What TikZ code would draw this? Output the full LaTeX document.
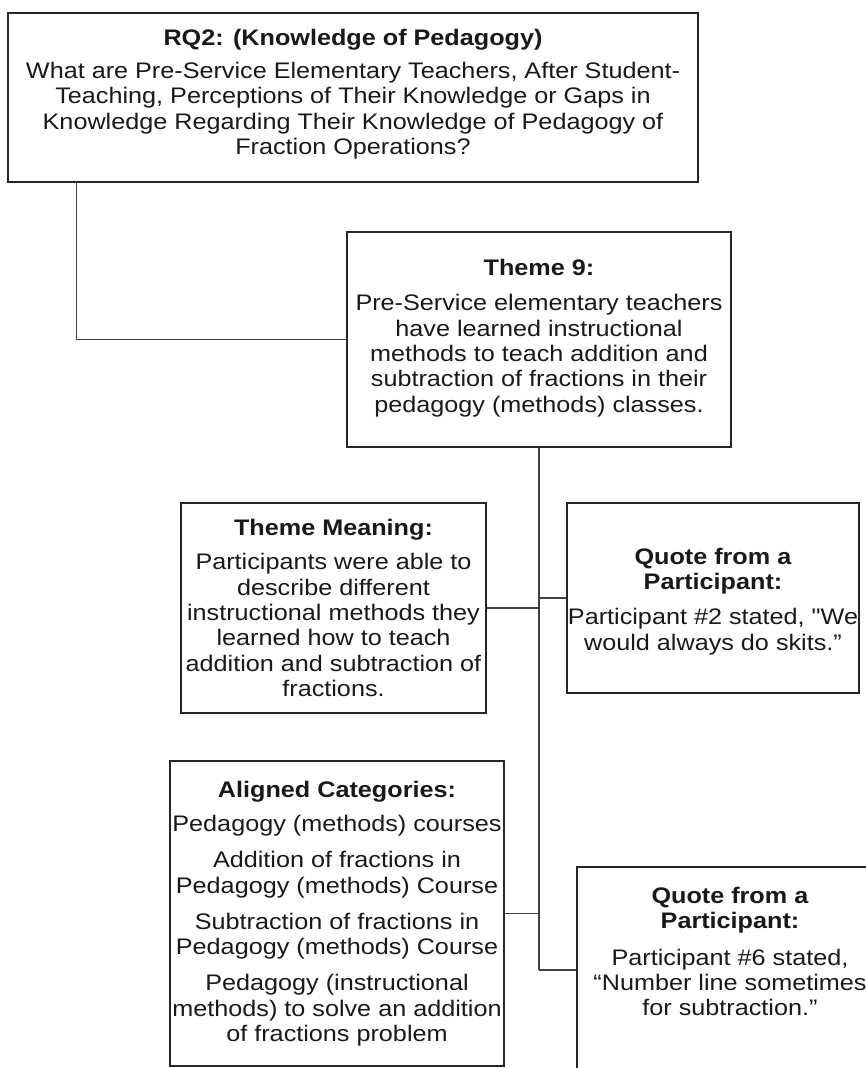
\documentclass[tikz,border=0pt]{standalone}
\usepackage{fontspec}
\newfontfamily\diagfont{Liberation Sans}[FakeStretch=1.12]
\usetikzlibrary{calc}
\begin{document}
\begin{tikzpicture}[x=1pt,y=-1pt,
  box/.style={draw=black!85,line width=1.3pt,fill=white,rectangle,inner sep=0pt},
  txt/.style={align=center,inner sep=0pt,text=black!90,font=\diagfont\fontsize{22.5}{25.3}\selectfont},
  link/.style={draw=black!75,line width=1.3pt}]
\useasboundingbox (0,0) rectangle (866,1068);
\clip (0,0) rectangle (866,1068);

% boxes
\node[box,minimum width=690pt,minimum height=169pt] (rq) at (353,97.5) {};
\node[box,minimum width=384pt,minimum height=215pt] (t9) at (539,339.5) {};
\node[box,minimum width=305pt,minimum height=210pt] (tm) at (333.5,608) {};
\node[box,minimum width=292pt,minimum height=190pt] (q1) at (713,598) {};
\node[box,minimum width=334pt,minimum height=305pt] (ac) at (337,913.5) {};
\node[box,minimum width=306pt,minimum height=206pt] (q2) at (730,970) {};

% connectors
\draw[link] ($(rq.south west)+(69,0)$) |- (t9.west);
\draw[link] (t9.south) -- (t9.south |- q2.west);
\draw[link] (tm.east) -- (tm.east -| t9.south);
\draw[link] (q1.west) -- (q1.west -| t9.south);
\draw[link] (ac.east) -- (ac.east -| t9.south);
\draw[link] (t9.south |- q2.west) -- (q2.west);

% texts
\node[txt] (rqtext) at (353,94) {\textbf{RQ2: (Knowledge of Pedagogy)}\\[8pt]
  What are Pre-Service Elementary Teachers, After Student-\\
  Teaching, Perceptions of Their Knowledge or Gaps in\\
  Knowledge Regarding Their Knowledge of Pedagogy of\\
  Fraction Operations?};
\node[txt] (t9text) at (539,338) {\textbf{Theme 9:}\\[10pt]
  Pre-Service elementary teachers\\
  have learned instructional\\
  methods to teach addition and\\
  subtraction of fractions in their\\
  pedagogy (methods) classes.};
\node[txt] (tmtext) at (333.5,608) {\textbf{Theme Meaning:}\\[9pt]
  Participants were able to\\
  describe different\\
  instructional methods they\\
  learned how to teach\\
  addition and subtraction of\\
  fractions.};
\node[txt] (q1text) at (713,601.5) {\textbf{Quote from a}\\
  \textbf{Participant:}\\[10pt]
  Participant \#2 stated, "We\\
  would always do skits.”};
\node[txt] (actext) at (337,913.5) {\textbf{Aligned Categories:}\\[9pt]
  Pedagogy (methods) courses\\[11pt]
  Addition of fractions in\\
  Pedagogy (methods) Course\\[11pt]
  Subtraction of fractions in\\
  Pedagogy (methods) Course\\[11pt]
  Pedagogy (instructional\\
  methods) to solve an addition\\
  of fractions problem};
\node[txt] (q2text) at (730,951.5) {\textbf{Quote from a}\\
  \textbf{Participant:}\\[11pt]
  Participant \#6 stated,\\
  “Number line sometimes\\
  for subtraction.”};
\end{tikzpicture}
\end{document}
